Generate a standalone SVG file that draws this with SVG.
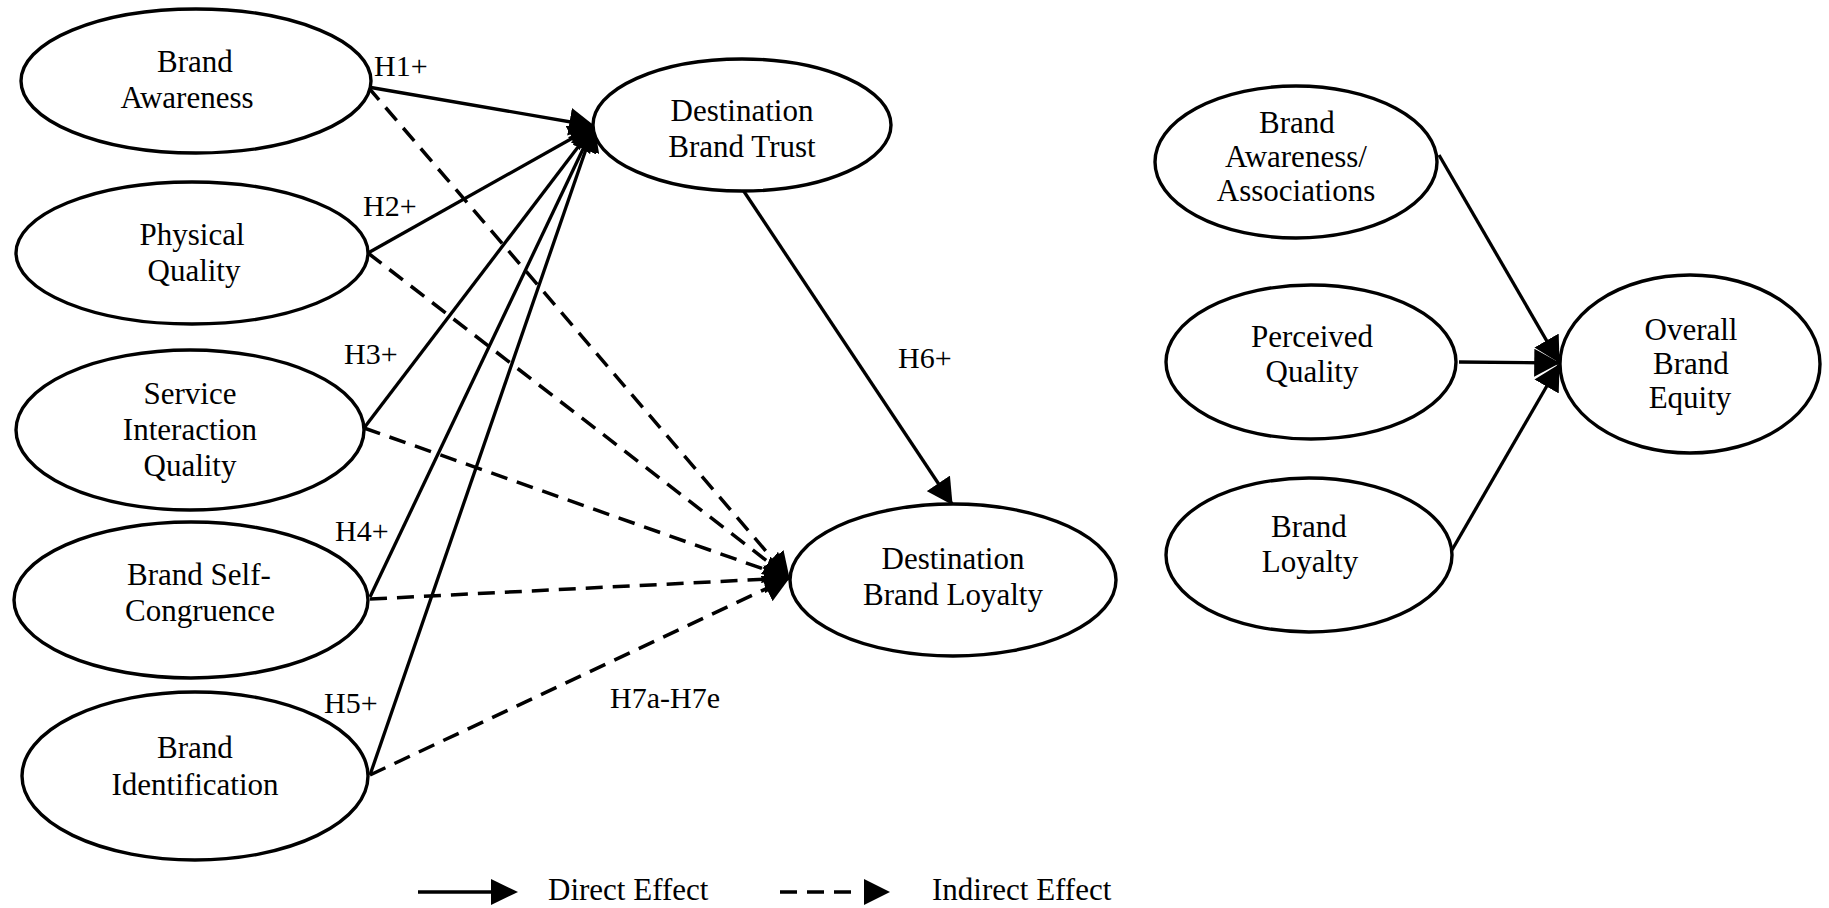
<svg xmlns="http://www.w3.org/2000/svg" width="1829" height="908" viewBox="0 0 1829 908">
<style>
  .node { fill: #ffffff; stroke: #000000; stroke-width: 3.4; }
  text { font-family: 'Liberation Serif', 'Times New Roman', Times, serif; fill: #000000; }
  .lbl { font-size: 31px; text-anchor: middle; }
  .hyp { font-size: 30px; }
  .leg { font-size: 31px; }
  .direct { stroke: #000000; stroke-width: 3.3; fill: none; marker-end: url(#arrow); }
  .indirect { stroke: #000000; stroke-width: 3.5; fill: none; stroke-dasharray: 17 10; marker-end: url(#arrow); }
  .legline { stroke: #000000; stroke-width: 3.5; fill: none; }
  .head { fill: #000000; }
</style>
<defs>
  <marker id="arrow" markerUnits="userSpaceOnUse" markerWidth="26" markerHeight="28" viewBox="0 0 24 26" refX="23" refY="13" orient="auto">
    <path d="M0,0 L24,13 L0,26 Z" fill="#000000"/>
  </marker>
</defs>
<rect x="0" y="0" width="1829" height="908" fill="#ffffff"/>

<g id="connectors">
  <!-- direct effects to Destination Brand Trust -->
  <line class="direct" x1="368" y1="87" x2="594" y2="126"/>
  <line class="direct" x1="368" y1="253" x2="594" y2="126"/>
  <line class="direct" x1="364" y1="428" x2="594" y2="126"/>
  <line class="direct" x1="370" y1="597" x2="594" y2="126"/>
  <line class="direct" x1="370" y1="775" x2="594" y2="126"/>
  <!-- indirect effects to Destination Brand Loyalty -->
  <line class="indirect" x1="368" y1="87" x2="789" y2="578"/>
  <line class="indirect" x1="368" y1="253" x2="789" y2="578"/>
  <line class="indirect" x1="364" y1="428" x2="789" y2="578"/>
  <line class="indirect" x1="370" y1="599" x2="789" y2="578"/>
  <line class="indirect" x1="370" y1="775" x2="789" y2="578"/>
  <!-- H6 -->
  <line class="direct" x1="743" y1="190" x2="952" y2="504"/>
  <!-- right model -->
  <line class="direct" x1="1439" y1="155" x2="1559" y2="362"/>
  <line class="direct" x1="1459" y1="362" x2="1559" y2="363"/>
  <line class="direct" x1="1452" y1="550" x2="1559" y2="365"/>
  <!-- hypothesis labels -->
  <text class="hyp" x="374" y="76">H1+</text>
  <text class="hyp" x="363" y="216">H2+</text>
  <text class="hyp" x="344" y="364">H3+</text>
  <text class="hyp" x="335" y="541">H4+</text>
  <text class="hyp" x="324" y="713">H5+</text>
  <text class="hyp" x="898" y="368">H6+</text>
  <text class="hyp" x="610" y="708">H7a-H7e</text>
</g>

<g id="brand-awareness">
  <ellipse class="node" cx="196" cy="81" rx="175" ry="72"/>
  <text class="lbl" x="195" y="72">Brand</text>
  <text class="lbl" x="187" y="108">Awareness</text>
</g>
<g id="physical-quality">
  <ellipse class="node" cx="192" cy="253" rx="176" ry="71"/>
  <text class="lbl" x="192" y="245">Physical</text>
  <text class="lbl" x="194" y="281">Quality</text>
</g>
<g id="service-interaction-quality">
  <ellipse class="node" cx="190" cy="430" rx="174" ry="80"/>
  <text class="lbl" x="190" y="404">Service</text>
  <text class="lbl" x="190" y="440">Interaction</text>
  <text class="lbl" x="190" y="476">Quality</text>
</g>
<g id="brand-self-congruence">
  <ellipse class="node" cx="191" cy="600" rx="177" ry="78"/>
  <text class="lbl" x="199" y="585">Brand Self-</text>
  <text class="lbl" x="200" y="621">Congruence</text>
</g>
<g id="brand-identification">
  <ellipse class="node" cx="195" cy="776" rx="173" ry="84"/>
  <text class="lbl" x="195" y="758">Brand</text>
  <text class="lbl" x="195" y="795">Identification</text>
</g>
<g id="destination-brand-trust">
  <ellipse class="node" cx="742" cy="125" rx="149" ry="66"/>
  <text class="lbl" x="742" y="121">Destination</text>
  <text class="lbl" x="742" y="157">Brand Trust</text>
</g>
<g id="destination-brand-loyalty">
  <ellipse class="node" cx="953" cy="580" rx="163" ry="76"/>
  <text class="lbl" x="953" y="569">Destination</text>
  <text class="lbl" x="953" y="605">Brand Loyalty</text>
</g>
<g id="brand-awareness-associations">
  <ellipse class="node" cx="1296" cy="162" rx="141" ry="76"/>
  <text class="lbl" x="1297" y="133">Brand</text>
  <text class="lbl" x="1296" y="167">Awareness/</text>
  <text class="lbl" x="1296" y="201">Associations</text>
</g>
<g id="perceived-quality">
  <ellipse class="node" cx="1311" cy="362" rx="145" ry="77"/>
  <text class="lbl" x="1312" y="347">Perceived</text>
  <text class="lbl" x="1312" y="382">Quality</text>
</g>
<g id="brand-loyalty">
  <ellipse class="node" cx="1309" cy="555" rx="143" ry="77"/>
  <text class="lbl" x="1309" y="537">Brand</text>
  <text class="lbl" x="1310" y="572">Loyalty</text>
</g>
<g id="overall-brand-equity">
  <ellipse class="node" cx="1690" cy="364" rx="130" ry="89"/>
  <text class="lbl" x="1691" y="340">Overall</text>
  <text class="lbl" x="1691" y="374">Brand</text>
  <text class="lbl" x="1690" y="408">Equity</text>
</g>

<g id="legend">
  <line class="legline" x1="418" y1="892" x2="494" y2="892"/>
  <path class="head" d="M491,879 L518,892 L491,905 Z"/>
  <text class="leg" x="548" y="900">Direct Effect</text>
  <line class="legline" x1="780" y1="892" x2="852" y2="892" stroke-dasharray="17 10"/>
  <path class="head" d="M864,879 L890,892 L864,905 Z"/>
  <text class="leg" x="932" y="900">Indirect Effect</text>
</g>
</svg>
